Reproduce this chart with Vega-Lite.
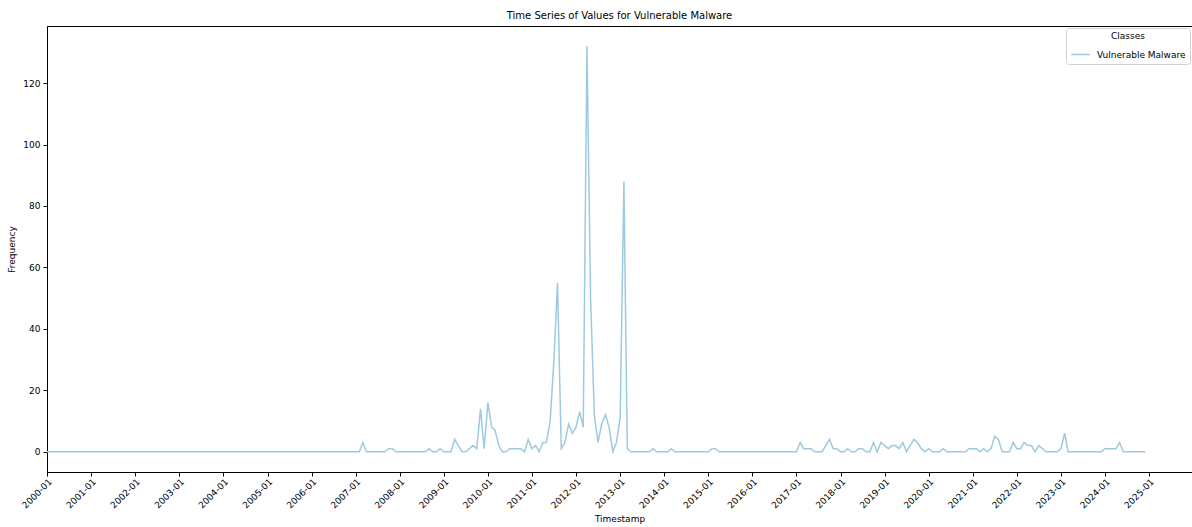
{
  "$schema": "https://vega.github.io/schema/vega-lite/v6.json",
  "autosize": {"type": "none"},
  "padding": {"left": 47, "top": 26, "right": 0, "bottom": 55},
  "width": 1145,
  "height": 446,
  "background": "white",
  "config": {
    "font": "DejaVu Sans",
    "view": {"stroke": "black", "strokeWidth": 1},
    "axis": {"grid": false, "domainColor": "black", "tickColor": "black", "labelColor": "black", "titleColor": "black", "labelFont": "DejaVu Sans", "titleFont": "DejaVu Sans", "labelFontSize": 9, "titleFontSize": 9, "titleFontWeight": "normal", "tickSize": 4, "labelPadding": 3}
  },
  "title": {"text": "Time Series of Values for Vulnerable Malware", "fontSize": 10, "fontWeight": "normal", "font": "DejaVu Sans", "color": "black", "offset": 5, "anchor": "middle"},
  "data": {"values": [
    {"month":"2000-01-01","value":0},{"month":"2000-02-01","value":0},{"month":"2000-03-01","value":0},{"month":"2000-04-01","value":0},{"month":"2000-05-01","value":0},{"month":"2000-06-01","value":0},{"month":"2000-07-01","value":0},{"month":"2000-08-01","value":0},{"month":"2000-09-01","value":0},{"month":"2000-10-01","value":0},{"month":"2000-11-01","value":0},{"month":"2000-12-01","value":0},
    {"month":"2001-01-01","value":0},{"month":"2001-02-01","value":0},{"month":"2001-03-01","value":0},{"month":"2001-04-01","value":0},{"month":"2001-05-01","value":0},{"month":"2001-06-01","value":0},{"month":"2001-07-01","value":0},{"month":"2001-08-01","value":0},{"month":"2001-09-01","value":0},{"month":"2001-10-01","value":0},{"month":"2001-11-01","value":0},{"month":"2001-12-01","value":0},
    {"month":"2002-01-01","value":0},{"month":"2002-02-01","value":0},{"month":"2002-03-01","value":0},{"month":"2002-04-01","value":0},{"month":"2002-05-01","value":0},{"month":"2002-06-01","value":0},{"month":"2002-07-01","value":0},{"month":"2002-08-01","value":0},{"month":"2002-09-01","value":0},{"month":"2002-10-01","value":0},{"month":"2002-11-01","value":0},{"month":"2002-12-01","value":0},
    {"month":"2003-01-01","value":0},{"month":"2003-02-01","value":0},{"month":"2003-03-01","value":0},{"month":"2003-04-01","value":0},{"month":"2003-05-01","value":0},{"month":"2003-06-01","value":0},{"month":"2003-07-01","value":0},{"month":"2003-08-01","value":0},{"month":"2003-09-01","value":0},{"month":"2003-10-01","value":0},{"month":"2003-11-01","value":0},{"month":"2003-12-01","value":0},
    {"month":"2004-01-01","value":0},{"month":"2004-02-01","value":0},{"month":"2004-03-01","value":0},{"month":"2004-04-01","value":0},{"month":"2004-05-01","value":0},{"month":"2004-06-01","value":0},{"month":"2004-07-01","value":0},{"month":"2004-08-01","value":0},{"month":"2004-09-01","value":0},{"month":"2004-10-01","value":0},{"month":"2004-11-01","value":0},{"month":"2004-12-01","value":0},
    {"month":"2005-01-01","value":0},{"month":"2005-02-01","value":0},{"month":"2005-03-01","value":0},{"month":"2005-04-01","value":0},{"month":"2005-05-01","value":0},{"month":"2005-06-01","value":0},{"month":"2005-07-01","value":0},{"month":"2005-08-01","value":0},{"month":"2005-09-01","value":0},{"month":"2005-10-01","value":0},{"month":"2005-11-01","value":0},{"month":"2005-12-01","value":0},
    {"month":"2006-01-01","value":0},{"month":"2006-02-01","value":0},{"month":"2006-03-01","value":0},{"month":"2006-04-01","value":0},{"month":"2006-05-01","value":0},{"month":"2006-06-01","value":0},{"month":"2006-07-01","value":0},{"month":"2006-08-01","value":0},{"month":"2006-09-01","value":0},{"month":"2006-10-01","value":0},{"month":"2006-11-01","value":0},{"month":"2006-12-01","value":0},
    {"month":"2007-01-01","value":0},{"month":"2007-02-01","value":0},{"month":"2007-03-01","value":3},{"month":"2007-04-01","value":0},{"month":"2007-05-01","value":0},{"month":"2007-06-01","value":0},{"month":"2007-07-01","value":0},{"month":"2007-08-01","value":0},{"month":"2007-09-01","value":0},{"month":"2007-10-01","value":1},{"month":"2007-11-01","value":1},{"month":"2007-12-01","value":0},
    {"month":"2008-01-01","value":0},{"month":"2008-02-01","value":0},{"month":"2008-03-01","value":0},{"month":"2008-04-01","value":0},{"month":"2008-05-01","value":0},{"month":"2008-06-01","value":0},{"month":"2008-07-01","value":0},{"month":"2008-08-01","value":0},{"month":"2008-09-01","value":1},{"month":"2008-10-01","value":0},{"month":"2008-11-01","value":0},{"month":"2008-12-01","value":1},
    {"month":"2009-01-01","value":0},{"month":"2009-02-01","value":0},{"month":"2009-03-01","value":0},{"month":"2009-04-01","value":4},{"month":"2009-05-01","value":2},{"month":"2009-06-01","value":0},{"month":"2009-07-01","value":0},{"month":"2009-08-01","value":1},{"month":"2009-09-01","value":2},{"month":"2009-10-01","value":1},{"month":"2009-11-01","value":14},{"month":"2009-12-01","value":1},
    {"month":"2010-01-01","value":16},{"month":"2010-02-01","value":8},{"month":"2010-03-01","value":7},{"month":"2010-04-01","value":2},{"month":"2010-05-01","value":0},{"month":"2010-06-01","value":0},{"month":"2010-07-01","value":1},{"month":"2010-08-01","value":1},{"month":"2010-09-01","value":1},{"month":"2010-10-01","value":1},{"month":"2010-11-01","value":0},{"month":"2010-12-01","value":4},
    {"month":"2011-01-01","value":1},{"month":"2011-02-01","value":2},{"month":"2011-03-01","value":0},{"month":"2011-04-01","value":3},{"month":"2011-05-01","value":3},{"month":"2011-06-01","value":10},{"month":"2011-07-01","value":29},{"month":"2011-08-01","value":55},{"month":"2011-09-01","value":1},{"month":"2011-10-01","value":3},{"month":"2011-11-01","value":9},{"month":"2011-12-01","value":6},
    {"month":"2012-01-01","value":8},{"month":"2012-02-01","value":13},{"month":"2012-03-01","value":8},{"month":"2012-04-01","value":132},{"month":"2012-05-01","value":50},{"month":"2012-06-01","value":12},{"month":"2012-07-01","value":3},{"month":"2012-08-01","value":9},{"month":"2012-09-01","value":12},{"month":"2012-10-01","value":8},{"month":"2012-11-01","value":0},{"month":"2012-12-01","value":3},
    {"month":"2013-01-01","value":11},{"month":"2013-02-01","value":88},{"month":"2013-03-01","value":1},{"month":"2013-04-01","value":0},{"month":"2013-05-01","value":0},{"month":"2013-06-01","value":0},{"month":"2013-07-01","value":0},{"month":"2013-08-01","value":0},{"month":"2013-09-01","value":0},{"month":"2013-10-01","value":1},{"month":"2013-11-01","value":0},{"month":"2013-12-01","value":0},
    {"month":"2014-01-01","value":0},{"month":"2014-02-01","value":0},{"month":"2014-03-01","value":1},{"month":"2014-04-01","value":0},{"month":"2014-05-01","value":0},{"month":"2014-06-01","value":0},{"month":"2014-07-01","value":0},{"month":"2014-08-01","value":0},{"month":"2014-09-01","value":0},{"month":"2014-10-01","value":0},{"month":"2014-11-01","value":0},{"month":"2014-12-01","value":0},
    {"month":"2015-01-01","value":0},{"month":"2015-02-01","value":1},{"month":"2015-03-01","value":1},{"month":"2015-04-01","value":0},{"month":"2015-05-01","value":0},{"month":"2015-06-01","value":0},{"month":"2015-07-01","value":0},{"month":"2015-08-01","value":0},{"month":"2015-09-01","value":0},{"month":"2015-10-01","value":0},{"month":"2015-11-01","value":0},{"month":"2015-12-01","value":0},
    {"month":"2016-01-01","value":0},{"month":"2016-02-01","value":0},{"month":"2016-03-01","value":0},{"month":"2016-04-01","value":0},{"month":"2016-05-01","value":0},{"month":"2016-06-01","value":0},{"month":"2016-07-01","value":0},{"month":"2016-08-01","value":0},{"month":"2016-09-01","value":0},{"month":"2016-10-01","value":0},{"month":"2016-11-01","value":0},{"month":"2016-12-01","value":0},
    {"month":"2017-01-01","value":0},{"month":"2017-02-01","value":3},{"month":"2017-03-01","value":1},{"month":"2017-04-01","value":1},{"month":"2017-05-01","value":1},{"month":"2017-06-01","value":0},{"month":"2017-07-01","value":0},{"month":"2017-08-01","value":0},{"month":"2017-09-01","value":2},{"month":"2017-10-01","value":4},{"month":"2017-11-01","value":1},{"month":"2017-12-01","value":1},
    {"month":"2018-01-01","value":0},{"month":"2018-02-01","value":0},{"month":"2018-03-01","value":1},{"month":"2018-04-01","value":0},{"month":"2018-05-01","value":0},{"month":"2018-06-01","value":1},{"month":"2018-07-01","value":1},{"month":"2018-08-01","value":0},{"month":"2018-09-01","value":0},{"month":"2018-10-01","value":3},{"month":"2018-11-01","value":0},{"month":"2018-12-01","value":3},
    {"month":"2019-01-01","value":2},{"month":"2019-02-01","value":1},{"month":"2019-03-01","value":2},{"month":"2019-04-01","value":2},{"month":"2019-05-01","value":1},{"month":"2019-06-01","value":3},{"month":"2019-07-01","value":0},{"month":"2019-08-01","value":2},{"month":"2019-09-01","value":4},{"month":"2019-10-01","value":3},{"month":"2019-11-01","value":1},{"month":"2019-12-01","value":0},
    {"month":"2020-01-01","value":1},{"month":"2020-02-01","value":0},{"month":"2020-03-01","value":0},{"month":"2020-04-01","value":0},{"month":"2020-05-01","value":1},{"month":"2020-06-01","value":0},{"month":"2020-07-01","value":0},{"month":"2020-08-01","value":0},{"month":"2020-09-01","value":0},{"month":"2020-10-01","value":0},{"month":"2020-11-01","value":0},{"month":"2020-12-01","value":1},
    {"month":"2021-01-01","value":1},{"month":"2021-02-01","value":1},{"month":"2021-03-01","value":0},{"month":"2021-04-01","value":1},{"month":"2021-05-01","value":0},{"month":"2021-06-01","value":1},{"month":"2021-07-01","value":5},{"month":"2021-08-01","value":4},{"month":"2021-09-01","value":0},{"month":"2021-10-01","value":0},{"month":"2021-11-01","value":0},{"month":"2021-12-01","value":3},
    {"month":"2022-01-01","value":1},{"month":"2022-02-01","value":1},{"month":"2022-03-01","value":3},{"month":"2022-04-01","value":2},{"month":"2022-05-01","value":2},{"month":"2022-06-01","value":0},{"month":"2022-07-01","value":2},{"month":"2022-08-01","value":1},{"month":"2022-09-01","value":0},{"month":"2022-10-01","value":0},{"month":"2022-11-01","value":0},{"month":"2022-12-01","value":0},
    {"month":"2023-01-01","value":1},{"month":"2023-02-01","value":6},{"month":"2023-03-01","value":0},{"month":"2023-04-01","value":0},{"month":"2023-05-01","value":0},{"month":"2023-06-01","value":0},{"month":"2023-07-01","value":0},{"month":"2023-08-01","value":0},{"month":"2023-09-01","value":0},{"month":"2023-10-01","value":0},{"month":"2023-11-01","value":0},{"month":"2023-12-01","value":0},
    {"month":"2024-01-01","value":1},{"month":"2024-02-01","value":1},{"month":"2024-03-01","value":1},{"month":"2024-04-01","value":1},{"month":"2024-05-01","value":3},{"month":"2024-06-01","value":0},{"month":"2024-07-01","value":0},{"month":"2024-08-01","value":0},{"month":"2024-09-01","value":0},{"month":"2024-10-01","value":0},{"month":"2024-11-01","value":0},{"month":"2024-12-01","value":0}
  ]},
  "mark": {"type": "line", "strokeWidth": 1.5, "clip": true},
  "encoding": {
    "x": {
      "field": "month", "type": "temporal", "title": "Timestamp",
      "scale": {"type": "utc", "domain": ["2000-01-01", "2025-12-22"], "nice": false},
      "axis": {"format": "%Y-%m", "tickCount": {"interval": "year", "step": 1}, "labelAngle": -45, "labelAlign": "right", "labelBaseline": "top", "labelPadding": 1, "labelOverlap": false, "titlePadding": 5, "labelFlush": false}
    },
    "y": {
      "field": "value", "type": "quantitative", "title": "Frequency",
      "scale": {"domain": [-6.6, 138.6], "nice": false, "zero": false},
      "axis": {"values": [0, 20, 40, 60, 80, 100, 120], "titlePadding": 6}
    },
    "color": {
      "datum": "Vulnerable Malware", "type": "nominal",
      "scale": {"range": ["#9ecae1"]},
      "legend": {"title": "Classes", "orient": "top-right", "offset": 2, "titleAnchor": "middle", "titleFontWeight": "normal", "titleFontSize": 9, "labelFontSize": 9, "titleColor": "black", "labelColor": "black", "strokeColor": "#d0d0d0", "fillColor": "white", "padding": 4, "titlePadding": 3, "cornerRadius": 3, "symbolType": "stroke", "symbolSize": 350, "symbolStrokeWidth": 1.5, "labelOffset": 6, "labelFont": "DejaVu Sans", "titleFont": "DejaVu Sans"}
    }
  }
}
